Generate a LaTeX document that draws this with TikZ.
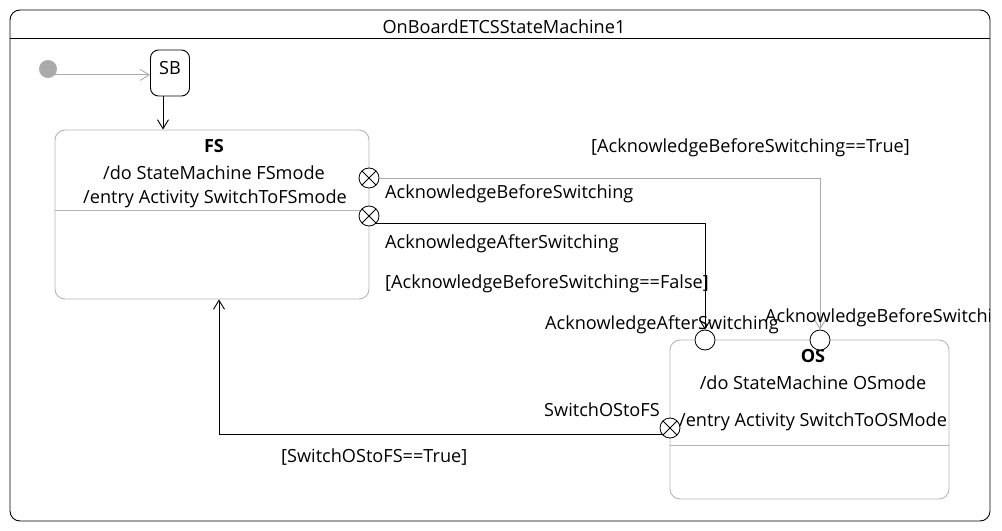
\documentclass[tikz,border=0pt]{standalone}
\usepackage{fontspec}
\setmainfont{Open Sans}
\usetikzlibrary{arrows.meta}
\definecolor{lgray}{HTML}{AAAAAA}
\definecolor{bgray}{HTML}{B4B4B4}
\begin{document}
\begin{tikzpicture}[x=1bp,y=-1bp,
  font=\fontsize{18.2}{21}\selectfont,
  state/.style={draw=bgray, line width=0.9bp, rounded corners=10bp, inner sep=0pt},
  exitpt/.style={draw, circle, line width=0.8bp, minimum size=20bp, inner sep=0pt, fill=white,
    path picture={\draw[line width=0.8bp] (path picture bounding box.south west) -- (path picture bounding box.north east)
      (path picture bounding box.north west) -- (path picture bounding box.south east);}},
  entrypt/.style={draw, circle, line width=0.8bp, minimum size=20bp, inner sep=0pt, fill=white},
  trans/.style={line width=0.9bp, -{Straight Barb[length=9bp,width=11bp,line width=0.9bp]}},
  lbl/.style={anchor=west, inner sep=0pt},
  txt/.style={inner sep=0pt}]
\useasboundingbox (0,0) rectangle (1002,531);
% frame
\node[draw, line width=0.9bp, rounded corners=10bp, minimum width=980bp, minimum height=511bp, inner sep=0pt] (frame) at (500,265.5) {};
\draw[line width=0.9bp] (frame.west |- 0,38) -- (frame.east |- 0,38);
\node[txt] (title) at (504,27) {OnBoardETCSStateMachine1};
% initial and SB
\node[circle, fill=lgray, minimum size=18bp, inner sep=0pt] (init) at (48,69) {};
\node[draw, line width=0.9bp, rounded corners=8bp, minimum width=39bp, minimum height=46bp, inner sep=0pt] (sb) at (170,73) {};
\node[txt] (sbt) at (170,68) {SB};
\draw[trans, lgray] (init.-40) -- (init.-40 -| sb.west);
% FS state
\node[state, minimum width=314bp, minimum height=169bp] (fs) at (212,214.5) {};
\draw[bgray, line width=0.9bp] (fs.west |- 0,210) -- (fs.east |- 0,210);
\node[txt] (fsn) at (214,146) {\bfseries FS};
\node[txt] (fsdo) at (214,173) {/do StateMachine FSmode};
\node[txt] (fsen) at (215,199) {/entry Activity SwitchToFSmode};
\draw[trans] ([xshift=-7bp]sb.south) -- ([xshift=-7bp]sb.south |- fs.north);
% OS state
\node[state, minimum width=279bp, minimum height=159bp] (os) at (809.5,419.5) {};
\draw[bgray, line width=0.9bp] (os.west |- 0,445) -- (os.east |- 0,445);
\node[txt] (osn) at (813,356) {\bfseries OS};
\node[txt] (osdo) at (813,383) {/do StateMachine OSmode};
\node[txt] (osen) at (813,422) {/entry Activity SwitchToOSMode};
% points
\node[exitpt] (x1) at (369,178) {};
\node[exitpt] (x2) at (369,216) {};
\node[entrypt] (e1) at (705,340) {};
\node[entrypt] (e2) at (820,340) {};
\node[exitpt] (x3) at (670,428) {};
% transitions
\draw[trans, lgray] (x1.east) -| (e2.north);
\draw[trans] (x2.-45) -| (e1.north);
\draw[trans] (x3.217) -| ([xshift=7bp]fs.south);
% labels
\node[lbl] (l1) at (591,148) {[AcknowledgeBeforeSwitching==True]};
\node[lbl] (l2) at (385,194) {AcknowledgeBeforeSwitching};
\node[lbl] (l3) at (385,244) {AcknowledgeAfterSwitching};
\node[lbl] (l4) at (385,284) {[AcknowledgeBeforeSwitching==False]};
\node[lbl] (l5) at (545,325) {AcknowledgeAfterSwitching};
\begin{scope}
\clip (10,10) rectangle (989.5,521);
\node[lbl] (l6) at (765,318) {AcknowledgeBeforeSwitching};
\end{scope}
\node[lbl] (l7) at (544,410) {SwitchOStoFS};
\node[lbl] (l8) at (281,457) {[SwitchOStoFS==True]};
\end{tikzpicture}
\end{document}
